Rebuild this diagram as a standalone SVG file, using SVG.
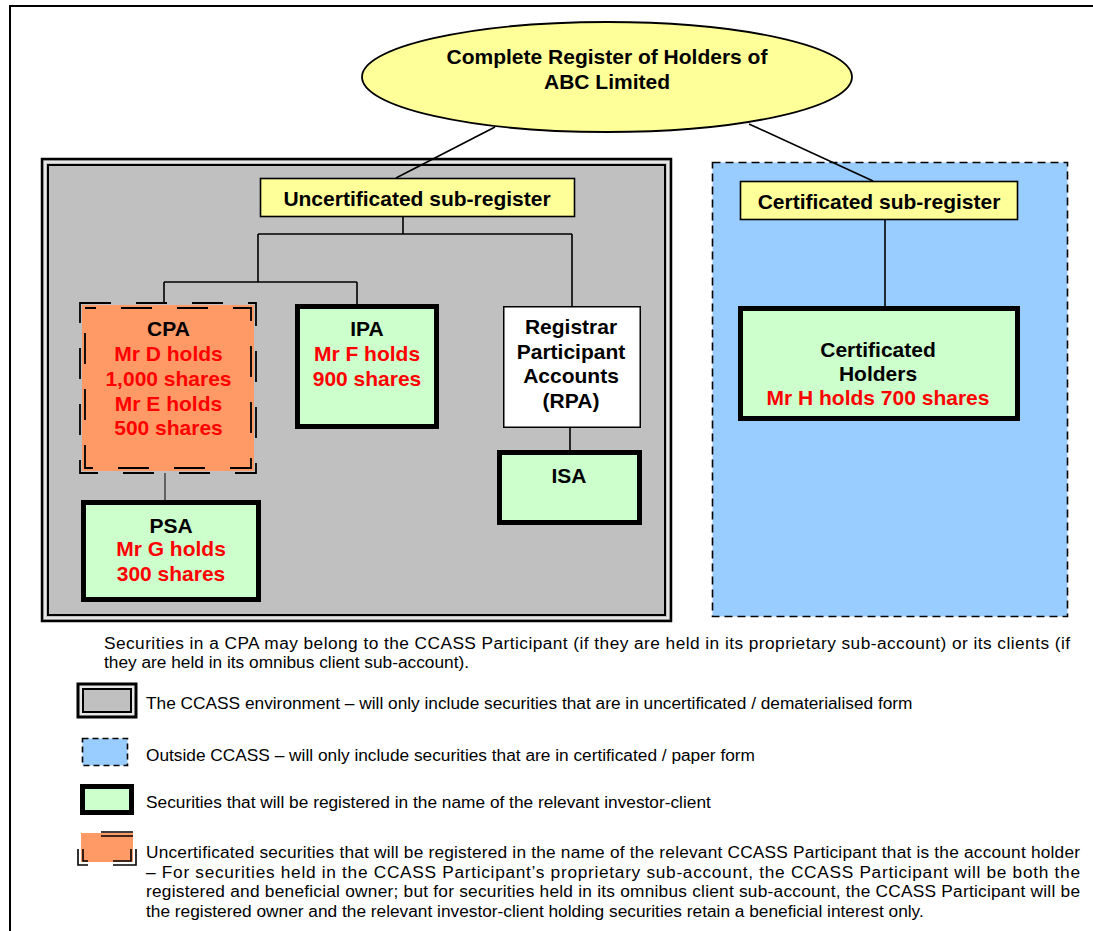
<svg xmlns="http://www.w3.org/2000/svg" width="1093" height="931" viewBox="0 0 1093 931">
<style>
.b{font-family:"Liberation Sans",Arial,sans-serif;font-weight:bold;font-size:21px;text-anchor:middle;fill:#000}
.r{fill:#ff0000}
.t{font-family:"Liberation Sans",Arial,sans-serif;font-size:17.3px;fill:#000}
.con{stroke:#000;stroke-width:1.6;fill:none}
.yel{fill:#ffff99;stroke:#000;stroke-width:1.6}
.grn{fill:#ccffcc;stroke:#000;stroke-width:5}
.dsh{fill:none;stroke:#000;stroke-width:1.8;stroke-dasharray:31 25}
</style>
<rect x="0" y="0" width="1093" height="931" fill="#fff"/>
<rect id="frame" x="10" y="6" width="1100" height="940" fill="none" stroke="#000" stroke-width="2"/>

<g id="ccass-env">
<rect x="42" y="159" width="629" height="462" fill="#c0c0c0" stroke="#000" stroke-width="2.5"/>
<rect x="45" y="162" width="623" height="456" fill="none" stroke="#e6e6e6" stroke-width="2"/>
<rect x="48" y="165" width="617" height="450" fill="none" stroke="#000" stroke-width="2"/>
</g>
<g id="outside-ccass">
<rect x="712.5" y="162.5" width="355" height="454" fill="#99ccff" stroke="#000" stroke-width="1.6" stroke-dasharray="8 5"/>
</g>

<g id="connectors">
<line class="con" x1="495" y1="127" x2="396" y2="178"/>
<line class="con" x1="749" y1="124" x2="873" y2="181"/>
<path class="con" d="M403 217 V234 M258 234 H572 M258 234 V282 M164 282 H357 M164 282 V304 M357 282 V304 M572 234 V306"/>
<line x1="165" y1="473" x2="165" y2="500" stroke="#222" stroke-width="1.2"/>
<line class="con" x1="570" y1="428" x2="570" y2="450"/>
<line class="con" x1="885" y1="220" x2="885" y2="306"/>
</g>

<g id="complete-register">
<ellipse cx="607" cy="77" rx="245" ry="55" fill="#ffff99" stroke="#000" stroke-width="1.8"/>
<text class="b" x="607" y="63.5">Complete Register of Holders of</text>
<text class="b" x="607" y="88.5">ABC Limited</text>
</g>

<g id="uncertificated-sub-register">
<rect class="yel" x="260.5" y="178.5" width="314" height="38"/>
<text class="b" x="417" y="205.5">Uncertificated sub-register</text>
</g>

<g id="certificated-sub-register">
<rect class="yel" x="740.5" y="181.5" width="277" height="38"/>
<text class="b" x="879" y="208.5">Certificated sub-register</text>
</g>

<g id="cpa">
<rect x="82" y="305" width="172" height="166" fill="#ff9966"/>
<rect class="dsh" x="80" y="303" width="176" height="170"/>
<rect class="dsh" x="85" y="308" width="166" height="160" stroke-dashoffset="20"/>
<text class="b" x="168.5" y="336">CPA</text>
<text class="b r" x="168.5" y="361">Mr D holds</text>
<text class="b r" x="168.5" y="385.5">1,000 shares</text>
<text class="b r" x="168.5" y="410.5">Mr E holds</text>
<text class="b r" x="168.5" y="434.5">500 shares</text>
</g>

<g id="psa">
<rect class="grn" x="83.5" y="502.5" width="175" height="97"/>
<text class="b" x="171" y="532.5">PSA</text>
<text class="b r" x="171" y="555.5">Mr G holds</text>
<text class="b r" x="171" y="580.5">300 shares</text>
</g>

<g id="ipa">
<rect class="grn" x="297.5" y="306.5" width="139" height="120"/>
<text class="b" x="367" y="335.5">IPA</text>
<text class="b r" x="367" y="360.5">Mr F holds</text>
<text class="b r" x="367" y="385.5">900 shares</text>
</g>

<g id="rpa">
<rect x="503.75" y="306.75" width="136.5" height="120.5" fill="#fff" stroke="#000" stroke-width="1.5"/>
<text class="b" x="571" y="333.5">Registrar</text>
<text class="b" x="571" y="358.5">Participant</text>
<text class="b" x="571" y="382.5">Accounts</text>
<text class="b" x="571" y="407.5">(RPA)</text>
</g>

<g id="isa">
<rect class="grn" x="499.5" y="452.5" width="140" height="70"/>
<text class="b" x="569" y="482.5">ISA</text>
</g>

<g id="certificated-holders">
<rect class="grn" x="740.5" y="308.5" width="277" height="110"/>
<text class="b" x="878" y="356.5">Certificated</text>
<text class="b" x="878" y="380.5">Holders</text>
<text class="b r" x="878" y="404.5">Mr H holds 700 shares</text>
</g>

<g id="note">
<text class="t" x="104" y="649" textLength="966" lengthAdjust="spacing">Securities in a CPA may belong to the CCASS Participant (if they are held in its proprietary sub-account) or its clients (if</text>
<text class="t" x="104" y="668">they are held in its omnibus client sub-account).</text>
</g>

<g id="legend-ccass">
<rect x="78" y="684" width="58" height="33" fill="#e6e6e6" stroke="#000" stroke-width="3"/>
<rect x="83" y="689" width="48" height="23" fill="#c0c0c0" stroke="#000" stroke-width="2"/>
<text class="t" x="146" y="709">The CCASS environment – will only include securities that are in uncertificated / dematerialised form</text>
</g>
<g id="legend-outside">
<rect x="82.5" y="738.5" width="45" height="27" fill="#99ccff" stroke="#000" stroke-width="1.6" stroke-dasharray="6 4"/>
<text class="t" x="146" y="761">Outside CCASS – will only include securities that are in certificated / paper form</text>
</g>
<g id="legend-investor">
<rect x="82.5" y="786.5" width="49" height="26" fill="#ccffcc" stroke="#000" stroke-width="5"/>
<text class="t" x="146" y="808">Securities that will be registered in the name of the relevant investor-client</text>
</g>
<g id="legend-participant">
<rect x="81" y="833" width="52" height="29" fill="#ff9966"/>
<path d="M101 832 H133 M101 836 H133 M78 849 V865 H88 M83 849 V861 H88 M113 865 H136 V849 M113 861 H131 V849" fill="none" stroke="#000" stroke-width="1.6"/>
<text class="t" x="146" y="858" textLength="934" lengthAdjust="spacing">Uncertificated securities that will be registered in the name of the relevant CCASS Participant that is the account holder</text>
<text class="t" x="146" y="877.5" textLength="934" lengthAdjust="spacing">– For securities held in the CCASS Participant’s proprietary sub-account, the CCASS Participant will be both the</text>
<text class="t" x="146" y="897" textLength="934" lengthAdjust="spacing">registered and beneficial owner; but for securities held in its omnibus client sub-account, the CCASS Participant will be</text>
<text class="t" x="146" y="916.5">the registered owner and the relevant investor-client holding securities retain a beneficial interest only.</text>
</g>
</svg>
